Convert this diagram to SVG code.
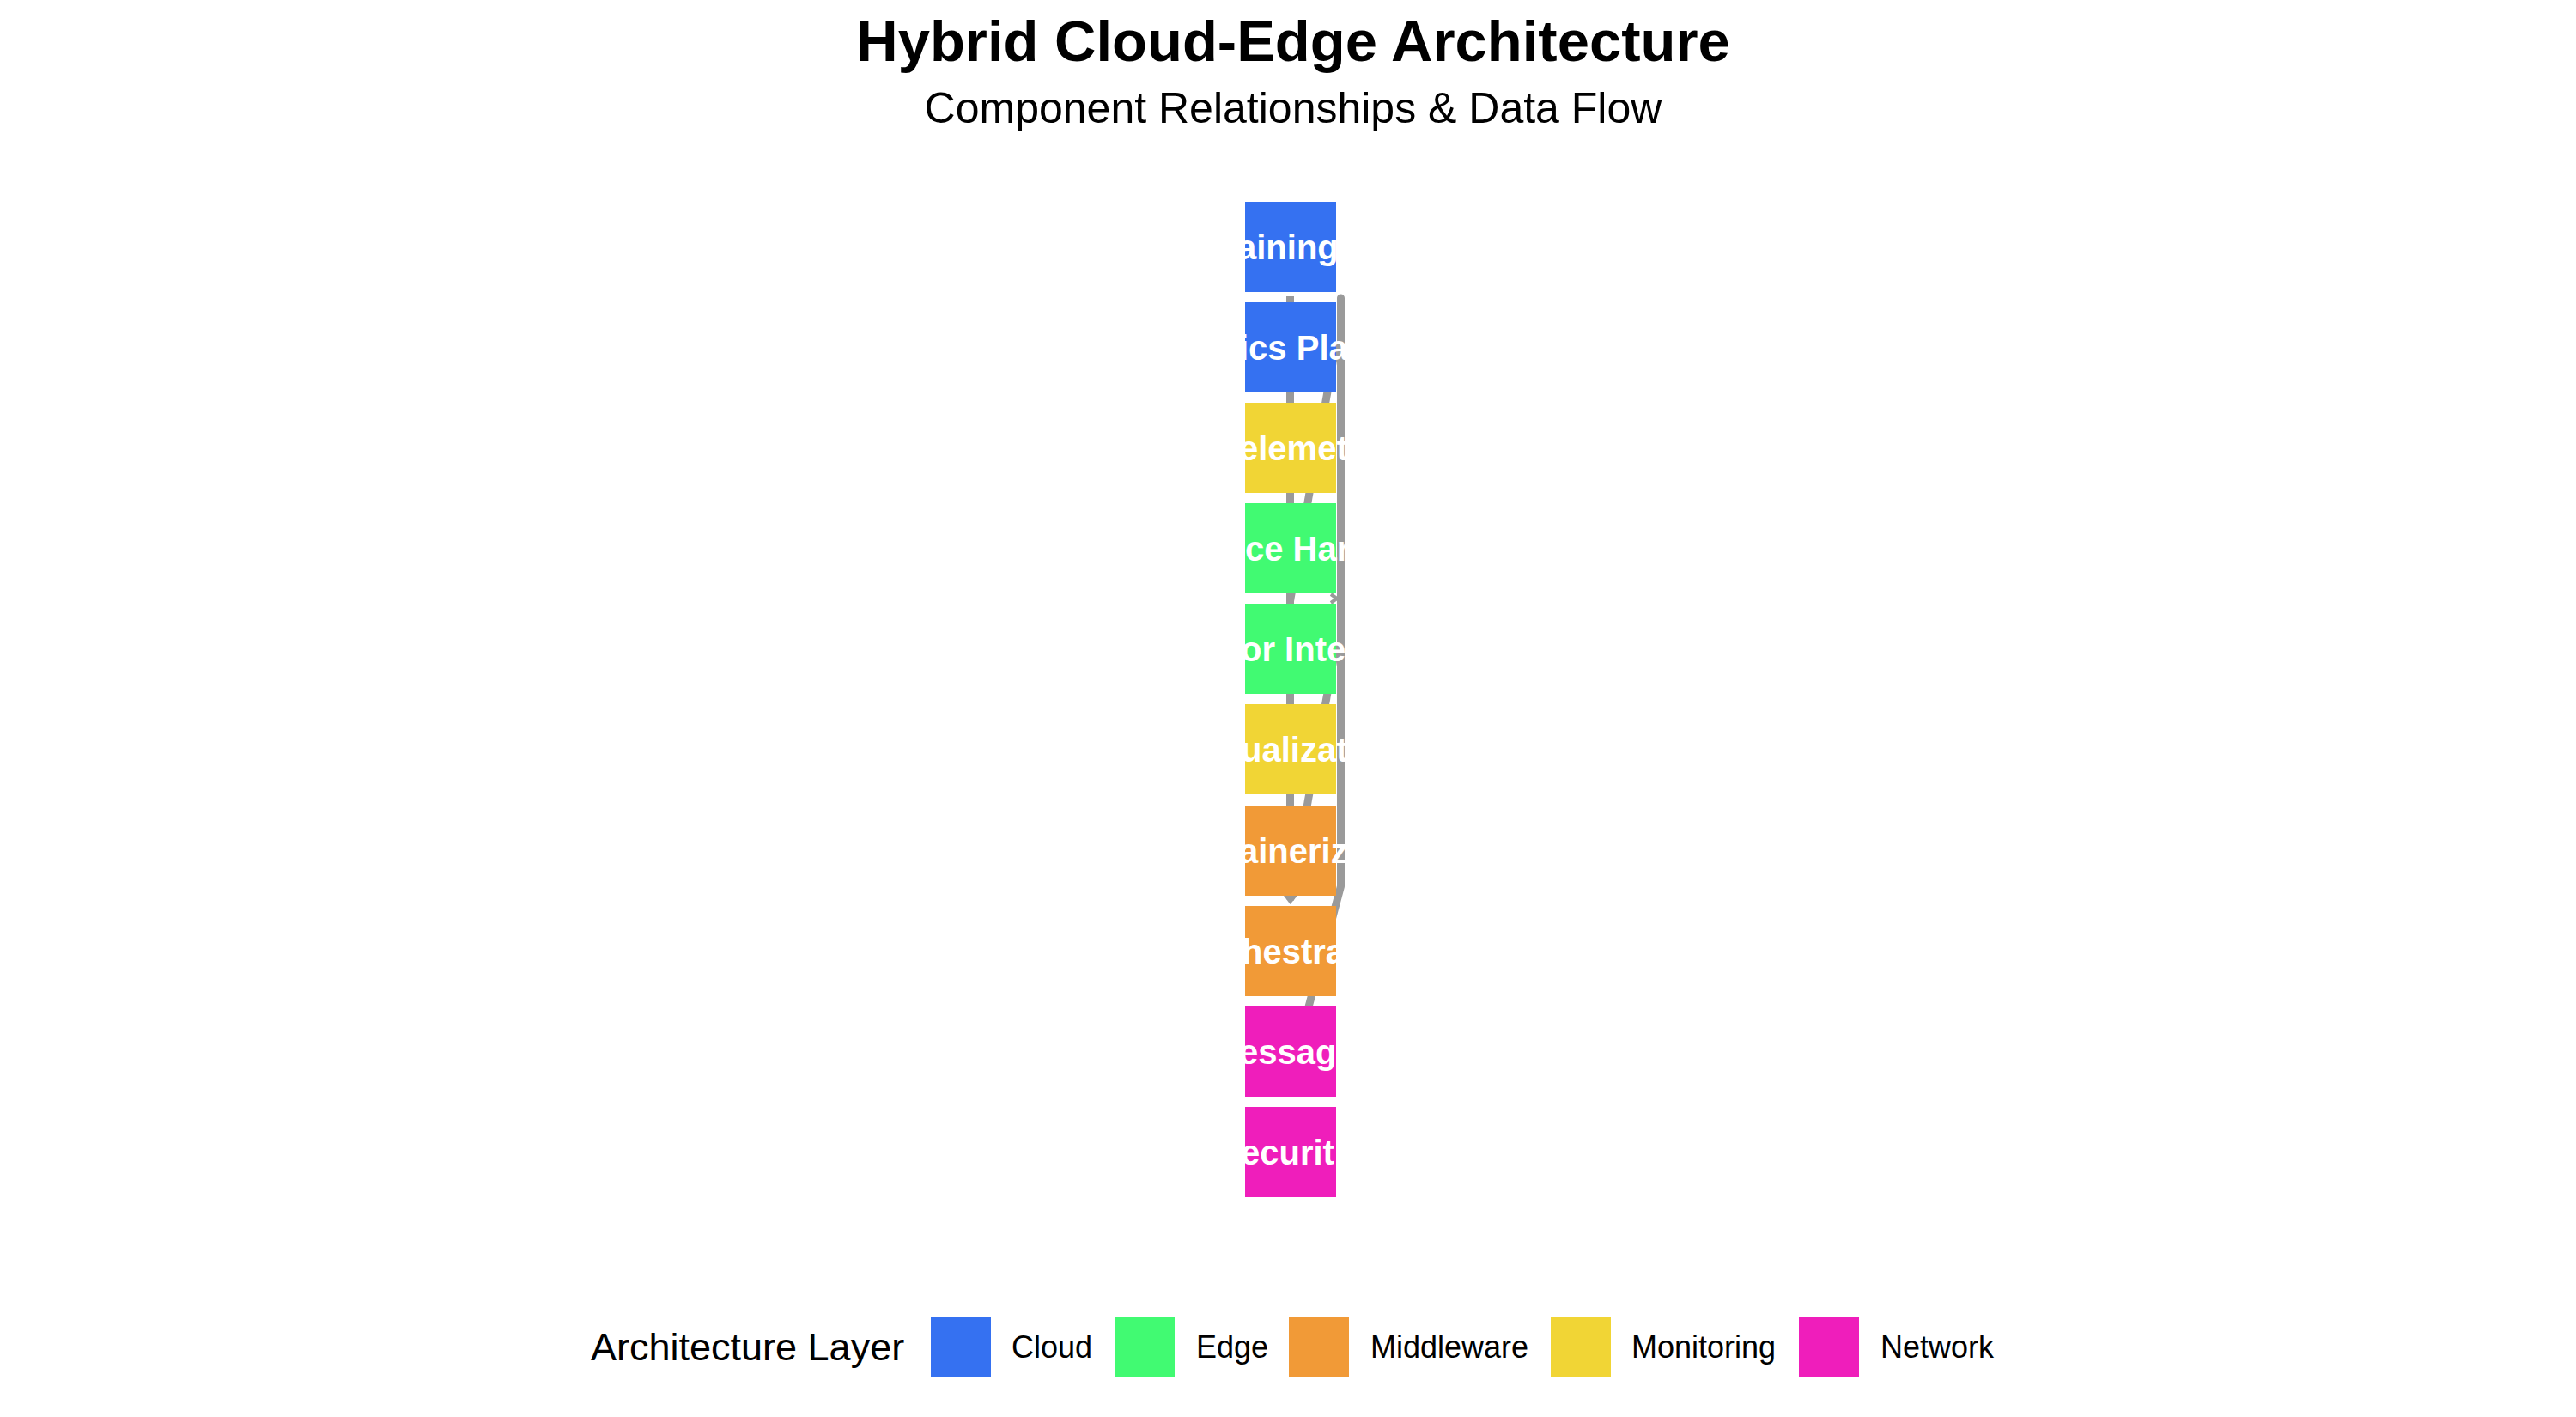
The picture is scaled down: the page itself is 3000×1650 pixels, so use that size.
<svg xmlns="http://www.w3.org/2000/svg" width="3000" height="1650" viewBox="0 0 3000 1650">
<style>
  .title{font-family:"Liberation Sans",Arial,sans-serif;font-weight:bold;font-size:67px;fill:#000}
  .sub{font-family:"Liberation Sans",Arial,sans-serif;font-size:50px;fill:#000}
  .lbl{font-family:"Liberation Sans",Arial,sans-serif;font-weight:bold;font-size:40px;fill:#fff}
  .leg{font-family:"Liberation Sans",Arial,sans-serif;font-size:36px;fill:#000}
  .legt{font-family:"Liberation Sans",Arial,sans-serif;font-size:45px;fill:#000}
  .link{fill:none;stroke:#9a9a9a;stroke-width:9}
  .cloud{fill:#3571f1}
  .edge{fill:#41fa72}
  .mid{fill:#f19a37}
  .mon{fill:#f1d535}
  .net{fill:#ef1ebb}
</style>
<defs>
  <clipPath id="lc"><rect x="1441" y="200" width="126" height="1230"/></clipPath>
</defs>
<rect width="3000" height="1650" fill="#fff"/>
<text class="title" x="1506" y="71" text-anchor="middle">Hybrid Cloud-Edge Architecture</text>
<text class="sub" x="1506" y="143" text-anchor="middle">Component Relationships &amp; Data Flow</text>

<g id="connectors">
  <path class="link" d="M1502.5,345 V1044"/>
  <polygon points="1495,1043 1511,1043 1502.5,1053" fill="#9a9a9a"/>
  <path class="link" d="M1556,400 L1502.5,700"/>
  <path class="link" d="M1556,751 L1502.5,1048"/>
  <path class="link" d="M1561.5,347 V1032 L1522,1180" stroke-linecap="round" stroke-linejoin="round"/>
  <path d="M1550,692 L1557,697 L1550,702" fill="none" stroke="#9a9a9a" stroke-width="4"/>
</g>

<g id="node-1"><rect class="cloud" x="1450" y="235" width="106" height="105"/><text class="lbl" x="1441" y="302" clip-path="url(#lc)">aining</text></g>
<g id="node-2"><rect class="cloud" x="1450" y="352" width="106" height="105"/><text class="lbl" x="1443" y="419" clip-path="url(#lc)">ics Pla</text></g>
<g id="node-3"><rect class="mon" x="1450" y="469" width="106" height="105"/><text class="lbl" x="1443" y="536" clip-path="url(#lc)">elemetr</text></g>
<g id="node-4"><rect class="edge" x="1450" y="586" width="106" height="105"/><text class="lbl" x="1450" y="653" clip-path="url(#lc)">ce Har</text></g>
<g id="node-5"><rect class="edge" x="1450" y="703" width="106" height="105"/><text class="lbl" x="1445" y="770" clip-path="url(#lc)">or Inte</text></g>
<g id="node-6"><rect class="mon" x="1450" y="820" width="106" height="105"/><text class="lbl" x="1445" y="887" clip-path="url(#lc)">ualizat</text></g>
<g id="node-7"><rect class="mid" x="1450" y="938" width="106" height="105"/><text class="lbl" x="1443" y="1005" clip-path="url(#lc)">aineriz</text></g>
<g id="node-8"><rect class="mid" x="1450" y="1055" width="106" height="105"/><text class="lbl" x="1446" y="1122" clip-path="url(#lc)">hestra</text></g>
<g id="node-9"><rect class="net" x="1450" y="1172" width="106" height="105"/><text class="lbl" x="1443" y="1239" clip-path="url(#lc)">essagi</text></g>
<g id="node-10"><rect class="net" x="1450" y="1289" width="106" height="105"/><text class="lbl" x="1445" y="1356" clip-path="url(#lc)">ecurit</text></g>

<g id="legend">
  <text class="legt" x="688" y="1584">Architecture Layer</text>
  <rect class="cloud" x="1084" y="1533" width="70" height="70"/><text class="leg" x="1178" y="1581">Cloud</text>
  <rect class="edge" x="1298" y="1533" width="70" height="70"/><text class="leg" x="1393" y="1581">Edge</text>
  <rect class="mid" x="1501" y="1533" width="70" height="70"/><text class="leg" x="1596" y="1581">Middleware</text>
  <rect class="mon" x="1806" y="1533" width="70" height="70"/><text class="leg" x="1900" y="1581">Monitoring</text>
  <rect class="net" x="2095" y="1533" width="70" height="70"/><text class="leg" x="2190" y="1581">Network</text>
</g>
</svg>
